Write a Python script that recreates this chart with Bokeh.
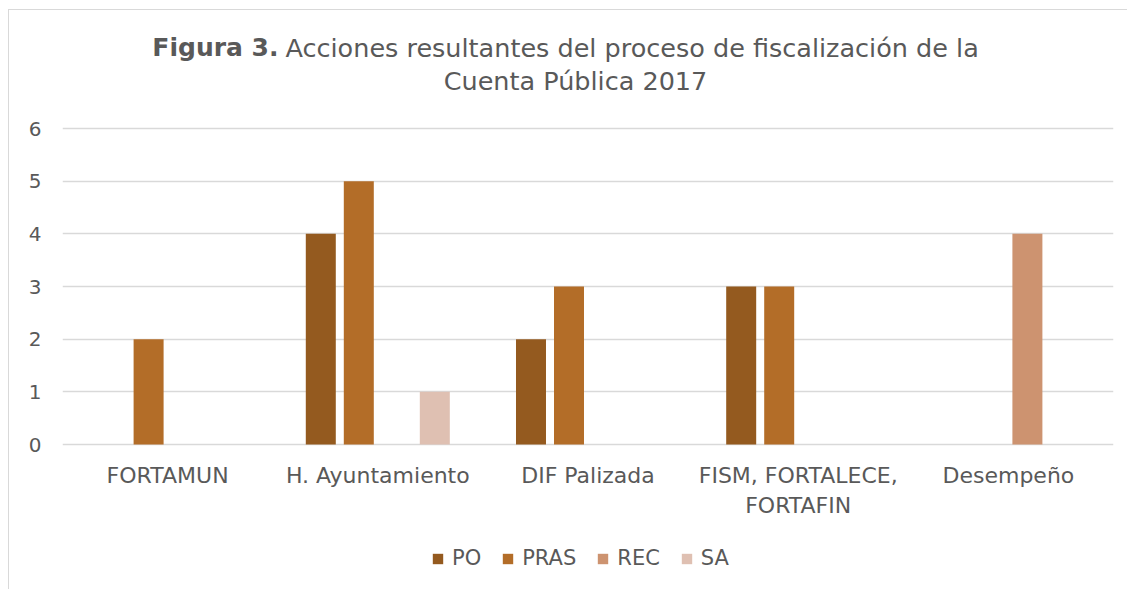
from bokeh.plotting import figure
from bokeh.models import ColumnDataSource, FactorRange, Legend, LegendItem, Label
from bokeh.core.properties import value
from bokeh.transform import dodge
from bokeh.embed import file_html
from bokeh.resources import INLINE

categories = ["FORTAMUN", "H. Ayuntamiento", "DIF Palizada", "FISM, FORTALECE, FORTAFIN", "Desempeño"]
category_labels = ["FORTAMUN", "H. Ayuntamiento", "DIF Palizada", "FISM, FORTALECE,\nFORTAFIN", "Desempeño"]
series_names = ["PO", "PRAS", "REC", "SA"]
po = [0, 4, 2, 3, 0]
pras = [2, 5, 3, 3, 0]
rec = [0, 0, 0, 0, 4]
sa = [0, 1, 0, 0, 0]
colors = ["#945A1F", "#B36D28", "#CD9370", "#DFC0B2"]
y_ticks = [0, 1, 2, 3, 4, 5, 6]
title_bold = "Figura 3."
title_line1 = "Acciones resultantes del proceso de fiscalización de la"
title_line2 = "Cuenta Pública 2017"

FONT = "DejaVu Sans"
TXT = "#595959"

src = ColumnDataSource(dict(cat=categories, label=category_labels, PO=po, PRAS=pras, REC=rec, SA=sa))

# y=6 sits 118px below frame top, y=0 146px above frame bottom (52.667 px per unit)
p = figure(x_range=FactorRange(*categories), y_range=(-2.772, 8.2405),
           x_axis_location=None,
           width=1119, height=580, output_backend="svg", toolbar_location=None,
           min_border_left=53, min_border_right=15, min_border_top=0, min_border_bottom=0)
p.styles = {"margin-left": "8px", "margin-top": "9px",
            "border-left": "1px solid #D9D9D9", "border-top": "1px solid #D9D9D9"}
p.outline_line_color = None

offsets = [-0.2712, -0.0904, 0.0904, 0.2712]
items = []
for name, off, col in zip(series_names, offsets, colors):
    r = p.vbar(x=dodge("cat", off, range=p.x_range), top=name, width=0.1427,
               source=src, fill_color=col, line_color=None)
    items.append(LegendItem(label=name, renderers=[r]))

# category labels under the bars
p.text(x="cat", y=-0.35, text="label", source=src, text_font=value(FONT),
       text_font_size="22px", text_color=TXT, text_align="center",
       text_baseline="top", text_line_height=1.2)

p.xgrid.grid_line_color = None
p.ygrid.grid_line_color = "#D9D9D9"
p.ygrid.grid_line_width = 1.5
p.yaxis.ticker = y_ticks
p.yaxis.axis_line_color = None
p.yaxis.major_tick_line_color = None
p.yaxis.minor_tick_line_color = None
p.yaxis.major_tick_out = 0
p.yaxis.major_label_text_font = FONT
p.yaxis.major_label_text_color = TXT
p.yaxis.major_label_text_font_size = "20px"
p.yaxis.major_label_standoff = 21

legend = Legend(items=items, orientation="horizontal", location=(369, 20),
                label_text_font=FONT, label_text_color=TXT, label_text_font_size="21px",
                glyph_width=13, glyph_height=13, label_standoff=8, spacing=20,
                border_line_color=None, background_fill_alpha=0, padding=0, margin=0)
p.add_layout(legend, "center")

# Title (two lines, first part bold)
p.add_layout(Label(x=216, y=543, x_units="screen", y_units="screen", text=title_bold,
                   text_font=FONT, text_font_style="bold", text_font_size="25px",
                   text_color=TXT, text_align="right", text_baseline="middle"))
p.add_layout(Label(x=223, y=543, x_units="screen", y_units="screen", text=title_line1,
                   text_font=FONT, text_font_size="25.5px",
                   text_color=TXT, text_align="left", text_baseline="middle"))
p.add_layout(Label(x=513, y=510, x_units="screen", y_units="screen", text=title_line2,
                   text_font=FONT, text_font_size="25.5px",
                   text_color=TXT, text_align="center", text_baseline="middle"))

open("out.html", "w").write(file_html(p, INLINE))
